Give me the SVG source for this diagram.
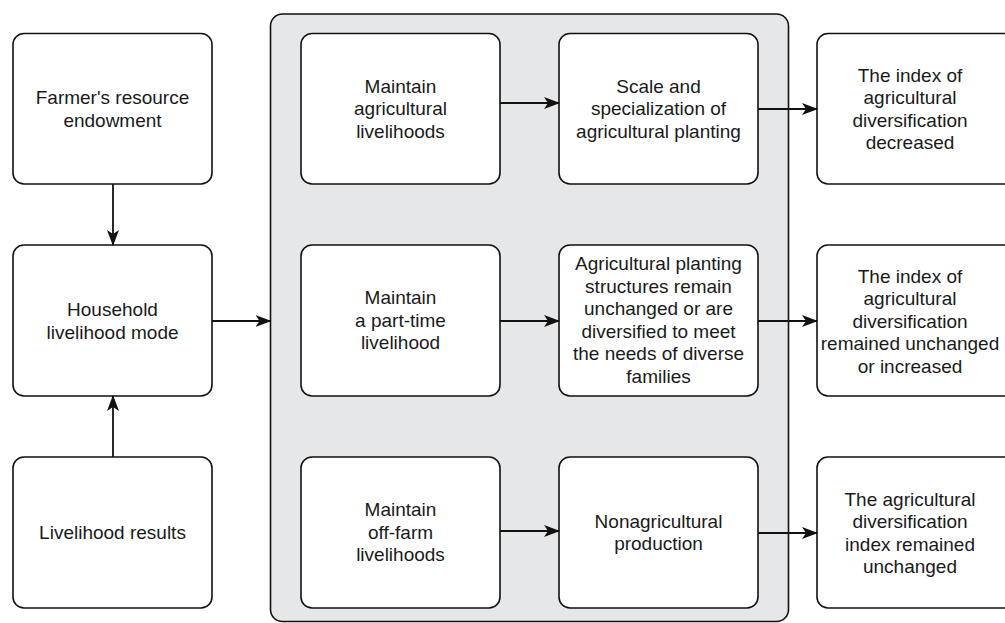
<svg xmlns="http://www.w3.org/2000/svg" width="1005" height="623" viewBox="0 0 1005 623">
<style>
.box{fill:#fff;stroke:#111;stroke-width:1.6}
.cont{fill:#e6e7e9;stroke:#111;stroke-width:1.6}
.t{font-family:"Liberation Sans",Arial,sans-serif;font-size:19px;fill:#1a1a1a;text-anchor:middle}
.c{fill:none;stroke:#111;stroke-width:1.8}
</style>
<defs>
<marker id="ah" markerUnits="userSpaceOnUse" markerWidth="18" markerHeight="14" refX="15" refY="7" orient="auto" viewBox="0 0 18 14">
<path d="M0,1 L16,7 L0,13 L4,7 Z" fill="#111"/>
</marker>
</defs>
<rect width="1005" height="623" fill="#fff"/>
<g id="container"><rect class="cont" x="270.5" y="14" width="518" height="607.5" rx="12"/></g>
<g id="n1"><rect class="box" x="13" y="33.5" width="199" height="150.5" rx="11"/>
<text class="t" x="112.5"><tspan x="112.5" y="104">Farmer's resource</tspan><tspan x="112.5" y="126.5">endowment</tspan></text></g>
<g id="n2"><rect class="box" x="13" y="245" width="199" height="151" rx="11"/>
<text class="t"><tspan x="112.5" y="316">Household</tspan><tspan x="112.5" y="338.5">livelihood mode</tspan></text></g>
<g id="n3"><rect class="box" x="13" y="457" width="199" height="151" rx="11"/>
<text class="t"><tspan x="112.5" y="539">Livelihood results</tspan></text></g>
<g id="n4"><rect class="box" x="301" y="33.5" width="199" height="150.5" rx="11"/>
<text class="t"><tspan x="400.5" y="92.5">Maintain</tspan><tspan x="400.5" y="115">agricultural</tspan><tspan x="400.5" y="137.5">livelihoods</tspan></text></g>
<g id="n5"><rect class="box" x="559" y="33.5" width="199" height="150.5" rx="11"/>
<text class="t"><tspan x="658.5" y="92.5">Scale and</tspan><tspan x="658.5" y="115">specialization of</tspan><tspan x="658.5" y="137.5">agricultural planting</tspan></text></g>
<g id="n6"><rect class="box" x="817" y="33.5" width="199" height="150.5" rx="11"/>
<text class="t"><tspan x="910" y="81.5">The index of</tspan><tspan x="910" y="104">agricultural</tspan><tspan x="910" y="126.5">diversification</tspan><tspan x="910" y="149">decreased</tspan></text></g>
<g id="n7"><rect class="box" x="301" y="245" width="199" height="151" rx="11"/>
<text class="t"><tspan x="400.5" y="304">Maintain</tspan><tspan x="400.5" y="326.5">a part-time</tspan><tspan x="400.5" y="349">livelihood</tspan></text></g>
<g id="n8"><rect class="box" x="559" y="245" width="199" height="151" rx="11"/>
<text class="t"><tspan x="658.5" y="270">Agricultural planting</tspan><tspan x="658.5" y="292.5">structures remain</tspan><tspan x="658.5" y="315">unchanged or are</tspan><tspan x="658.5" y="337.5">diversified to meet</tspan><tspan x="658.5" y="360">the needs of diverse</tspan><tspan x="658.5" y="382.5">families</tspan></text></g>
<g id="n9"><rect class="box" x="817" y="245" width="199" height="151" rx="11"/>
<text class="t"><tspan x="910" y="282.5">The index of</tspan><tspan x="910" y="305">agricultural</tspan><tspan x="910" y="327.5">diversification</tspan><tspan x="910" y="350">remained unchanged</tspan><tspan x="910" y="372.5">or increased</tspan></text></g>
<g id="n10"><rect class="box" x="301" y="457" width="199" height="151" rx="11"/>
<text class="t"><tspan x="400.5" y="516">Maintain</tspan><tspan x="400.5" y="538.5">off-farm</tspan><tspan x="400.5" y="561">livelihoods</tspan></text></g>
<g id="n11"><rect class="box" x="559" y="457" width="199" height="151" rx="11"/>
<text class="t"><tspan x="658.5" y="527.5">Nonagricultural</tspan><tspan x="658.5" y="550">production</tspan></text></g>
<g id="n12"><rect class="box" x="817" y="457" width="199" height="151" rx="11"/>
<text class="t"><tspan x="910" y="505.5">The agricultural</tspan><tspan x="910" y="528">diversification</tspan><tspan x="910" y="550.5">index remained</tspan><tspan x="910" y="573">unchanged</tspan></text></g>
<g id="connectors">
<path class="c" d="M113,184 V245" marker-end="url(#ah)"/>
<path class="c" d="M113,457 V396" marker-end="url(#ah)"/>
<path class="c" d="M212,321 H270.5" marker-end="url(#ah)"/>
<path class="c" d="M500,103 H559" marker-end="url(#ah)"/>
<path class="c" d="M758,109 H817" marker-end="url(#ah)"/>
<path class="c" d="M500,321 H559" marker-end="url(#ah)"/>
<path class="c" d="M758,321 H817" marker-end="url(#ah)"/>
<path class="c" d="M500,531 H559" marker-end="url(#ah)"/>
<path class="c" d="M758,533 H817" marker-end="url(#ah)"/>
</g>
</svg>
